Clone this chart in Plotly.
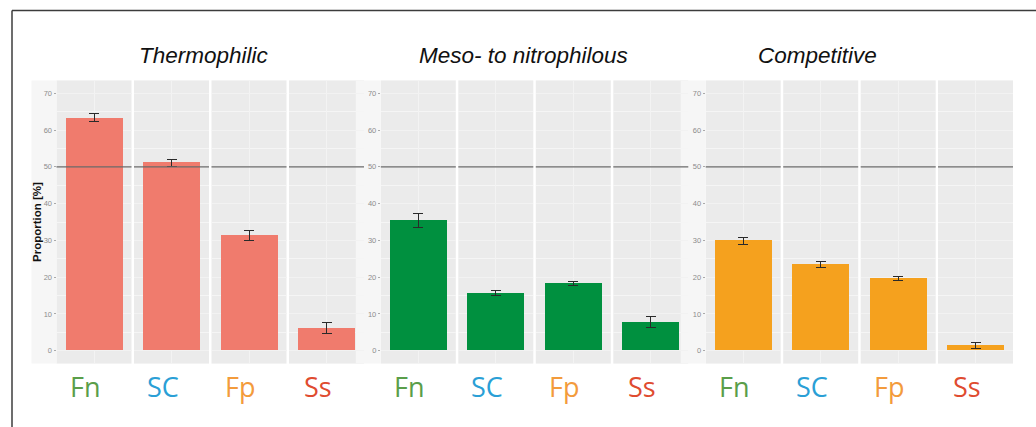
import plotly.graph_objects as go

W, H = 1036, 427

groups = ["Thermophilic", "Meso- to nitrophilous", "Competitive"]
categories = ["Fn", "SC", "Fp", "Ss"]
cat_colors = ["#5a9e4a", "#2a9fd6", "#f39b3c", "#df4b30"]
bar_colors = ["#f07b6d", "#00903f", "#f5a11e"]

thermo_vals = [63.3, 51.1, 31.4, 6.2]
thermo_err = [1.1, 1.0, 1.3, 1.4]
meso_vals = [35.4, 15.6, 18.3, 7.7]
meso_err = [1.9, 0.7, 0.5, 1.5]
comp_vals = [29.9, 23.5, 19.6, 1.5]
comp_err = [1.0, 0.8, 0.5, 0.8]

values = [thermo_vals, meso_vals, comp_vals]
errors = [thermo_err, meso_err, comp_err]

y_ticks = [0, 10, 20, 30, 40, 50, 60, 70]
ref_line = 50

# layout geometry (pixels)
panel_centers = [
    [94.0, 171.5, 249.0, 326.5],
    [418.3, 495.8, 573.3, 650.8],
    [743.2, 820.7, 898.2, 975.5],
]
panel_w = 75.0
panel_top, panel_bot = 80.4, 363.6
title_x = [203, 523, 817]

fig = go.Figure()
layout = {}
shapes = []
annotations = []

for g in range(3):
    for c in range(4):
        idx = g * 4 + c + 1
        xa = "x" if idx == 1 else f"x{idx}"
        ya = "y" if idx == 1 else f"y{idx}"
        fig.add_trace(go.Bar(
            x=[categories[c]], y=[values[g][c]],
            width=0.9,
            marker=dict(color=bar_colors[g], line=dict(width=0)),
            error_y=dict(type="data", array=[errors[g][c]], color="#2a2a2a",
                         thickness=1, width=5),
            xaxis=xa, yaxis=ya, showlegend=False,
        ))
        cx = panel_centers[g][c]
        layout[f"xaxis{idx}"] = dict(
            domain=[(cx - panel_w / 2) / W, (cx + panel_w / 2) / W],
            anchor=ya, type="category", range=[-0.6, 0.6],
            showticklabels=False, ticks="", showgrid=True,
            gridcolor="#f3f3f3", gridwidth=1, zeroline=False, showline=False,
            fixedrange=True,
        )
        layout[f"yaxis{idx}"] = dict(
            domain=[1 - panel_bot / H, 1 - panel_top / H],
            anchor=xa, range=[-3.5, 73.5],
            tickvals=y_ticks, ticktext=[str(v) for v in y_ticks],
            showticklabels=(c == 0),
            ticks="outside" if c == 0 else "", ticklen=2, tickcolor="#aaaaaa",
            tickfont=dict(size=7.5, color="#8c8c8c", family="Liberation Sans"),
            showgrid=True, gridcolor="#f2f2f2", gridwidth=1,
            minor=dict(dtick=5, tick0=5, showgrid=True, gridcolor="#f5f5f5", gridwidth=1),
            zeroline=False, showline=False, fixedrange=True,
        )
        shapes.append(dict(type="line", xref=f"{xa} domain", yref=ya,
                           x0=0, x1=1, y0=ref_line, y1=ref_line,
                           line=dict(color="#6a6a6a", width=1.2), layer="above"))
        annotations.append(dict(
            x=categories[c], y=0, xref=xa, yref="paper",
            yanchor="middle", xanchor="center",
            xshift=-9, yshift=H - 386,
            text=categories[c], showarrow=False,
            font=dict(size=27, color=cat_colors[c], family="Open Sans"),
        ))
    # light strip behind tick labels
    left = panel_centers[g][0] - panel_w / 2
    shapes.append(dict(type="rect", xref="paper", yref="paper",
                       x0=(left - 25) / W, x1=left / W,
                       y0=1 - panel_bot / H, y1=1 - panel_top / H,
                       fillcolor="#f6f6f6", line=dict(width=0), layer="below"))
    annotations.append(dict(
        x=title_x[g] / W, y=1 - 55 / H, xref="paper", yref="paper",
        text=f"<i>{groups[g]}</i>", showarrow=False,
        xanchor="center", yanchor="middle",
        font=dict(size=22.5, color="#111111", family="Liberation Sans"),
    ))

annotations.append(dict(
    x=37 / W, y=1 - 222 / H, xref="paper", yref="paper",
    text="<b>Proportion [%]</b>", textangle=-90, showarrow=False,
    xanchor="center", yanchor="middle",
    font=dict(size=11.5, color="#111111", family="Liberation Sans"),
))

# outer frame (top and left)
shapes.append(dict(type="line", xref="paper", yref="paper",
                   x0=12 / W, x1=1, y0=1 - 10.5 / H, y1=1 - 10.5 / H,
                   line=dict(color="#3c3c3c", width=1.5)))
shapes.append(dict(type="line", xref="paper", yref="paper",
                   x0=12 / W, x1=12 / W, y0=1 - 10.5 / H, y1=0,
                   line=dict(color="#3c3c3c", width=1.5)))

fig.update_layout(
    width=W, height=H,
    margin=dict(l=0, r=0, t=0, b=0),
    paper_bgcolor="white", plot_bgcolor="#ebebeb",
    shapes=shapes, annotations=annotations,
    bargap=0, **layout,
)

fig.write_html(
    "out.html",
    config={"displayModeBar": False, "responsive": False},
    post_script="document.body.style.margin='0';document.body.style.padding='0';"
                "document.body.style.overflow='hidden';",
)
